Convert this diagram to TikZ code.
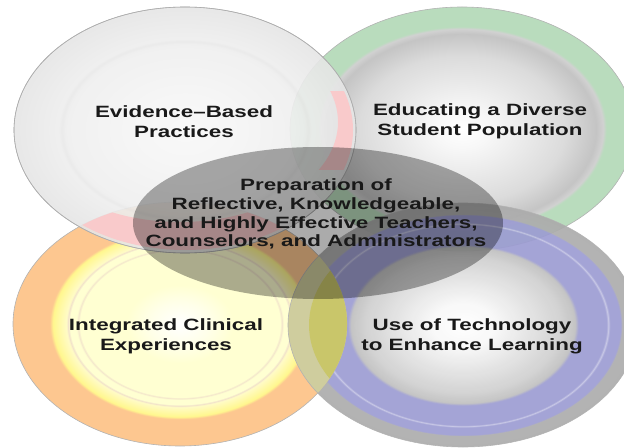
\documentclass[tikz,border=0pt]{standalone}
\usepackage{fontspec}
\setmainfont{Liberation Sans}
\newfontfamily\topicfont[FakeStretch=1.37]{Liberation Sans}

\definecolor{ringgreen}{HTML}{B9DCBD}
\definecolor{ringblue}{HTML}{9C9CD2}
\definecolor{ringorange}{HTML}{FDC790}
\definecolor{ringyellow}{HTML}{FFF78E}
\definecolor{paleyellow}{HTML}{FFFFD2}
\definecolor{ringbeige}{HTML}{EAD3C6}
\definecolor{lenspink}{HTML}{F9CACB}
\definecolor{lensolive}{HTML}{C9C66A}
\definecolor{lightolive}{HTML}{CFCD9E}

% ring shadings, 25bp = edge of the ellipse
\pgfdeclareradialshading{grayring}{\pgfpointorigin}{color(0bp)=(white!97!black); color(7bp)=(white!96!black); color(16bp)=(white!94!black); color(17.5bp)=(white!93!black); color(18bp)=(white!91!black); color(18.5bp)=(white!93!black); color(25bp)=(white!90!black); color(50bp)=(white!90!black)}
\pgfdeclareradialshading{greenring}{\pgfpointorigin}{color(0bp)=(white); color(4bp)=(white!97!black); color(15bp)=(white!86!black); color(19.5bp)=(white!77!black); color(20.5bp)=(white!82!black); color(21bp)=(ringgreen); color(25bp)=(ringgreen); color(50bp)=(ringgreen)}
\pgfdeclareradialshading{bluering}{\pgfpointorigin}{color(0bp)=(white); color(4.5bp)=(white!97!black); color(14bp)=(white!81!black); color(16bp)=(white!75!black); color(16.5bp)=(ringblue); color(20.5bp)=(ringblue); color(20.75bp)=(ringblue!60!white); color(21bp)=(ringblue); color(22.5bp)=(ringblue); color(22.75bp)=(white!68!black); color(25bp)=(white!67!black); color(50bp)=(white!67!black)}
\pgfdeclareradialshading{orangering}{\pgfpointorigin}{color(0bp)=(white); color(4.5bp)=(white!50!paleyellow); color(8bp)=(paleyellow); color(15bp)=(paleyellow); color(15.25bp)=(ringbeige!60!paleyellow); color(15.5bp)=(paleyellow); color(16.5bp)=(paleyellow); color(16.75bp)=(ringbeige!70!paleyellow); color(17bp)=(ringyellow!50!white); color(19bp)=(ringyellow); color(19.5bp)=(ringorange); color(25bp)=(ringorange); color(50bp)=(ringorange)}

\tikzset{
  topic/.style={font=\topicfont\bfseries\fontsize{16.4}{20}\selectfont, align=center, text=black!90},
  rim/.style={draw=black!30, line width=.6bp},
  tlsize/.style={x radius=171, y radius=123},
  trsize/.style={x radius=172, y radius=122},
  blsize/.style={x radius=167, y radius=122},
  brsize/.style={x radius=175, y radius=122},
}

\begin{document}
\begin{tikzpicture}[x=1bp,y=-1bp]
\useasboundingbox (0,0) rectangle (624,448);
\clip (0,0) rectangle (624,448);

\coordinate (tl) at (185,130);
\coordinate (tr) at (462,129);
\coordinate (bl) at (180,324);
\coordinate (br) at (463,325);
\coordinate (mid) at (318,223);

% the four rings
\path[shading=greenring, rim] (tr) ellipse [trsize];
\path[shading=bluering, rim, fill opacity=.92, draw opacity=.9] (br) ellipse [brsize];
\path[shading=orangering, rim] (bl) ellipse [blsize];

% overlap of the two lower rings
\begin{scope}
  \clip (bl) ellipse [blsize];
  \fill[lightolive] (br) ellipse [brsize];
  \fill[lensolive] (br) ellipse [x radius=154, y radius=107];
  \draw[black!30, line width=.6bp] (br) ellipse [brsize];
\end{scope}

\path[shading=grayring, rim, fill opacity=.9, draw opacity=.9] (tl) ellipse [tlsize];

% pink band where the upper left ring overlaps
\begin{scope}
  \clip (bl) ellipse [blsize];
  \fill[lenspink, even odd rule] (tl) ellipse [x radius=168, y radius=120]
    (180,122) ellipse [x radius=158, y radius=100];
\end{scope}
\begin{scope}
  \clip (tr) ellipse [trsize];
  \clip (300,92) rectangle (360,170);
  \fill[lenspink, even odd rule] (tl) ellipse [x radius=168, y radius=120]
    (180,122) ellipse [x radius=158, y radius=100];
\end{scope}
\draw[black!32, line width=.6bp] (tl) ellipse [tlsize];

% centre
\fill[black, fill opacity=.33] (mid) ellipse [x radius=185, y radius=76];

\node[topic] (evid) at (184,122) {Evidence–Based\\Practices};
\node[topic] (divers) at (480,121) {Educating a Diverse\\Student Population};
\node[topic] (clin) at (166,336) {Integrated Clinical\\Experiences};
\node[topic] (tech) at (472,336) {Use of Technology\\to Enhance Learning};
\node[topic, font=\topicfont\bfseries\fontsize{16.4}{18.8}\selectfont] (prep) at (316,214)
  {Preparation of\\Reflective, Knowledgeable,\\and Highly Effective Teachers,\\Counselors, and Administrators};
\end{tikzpicture}
\end{document}
